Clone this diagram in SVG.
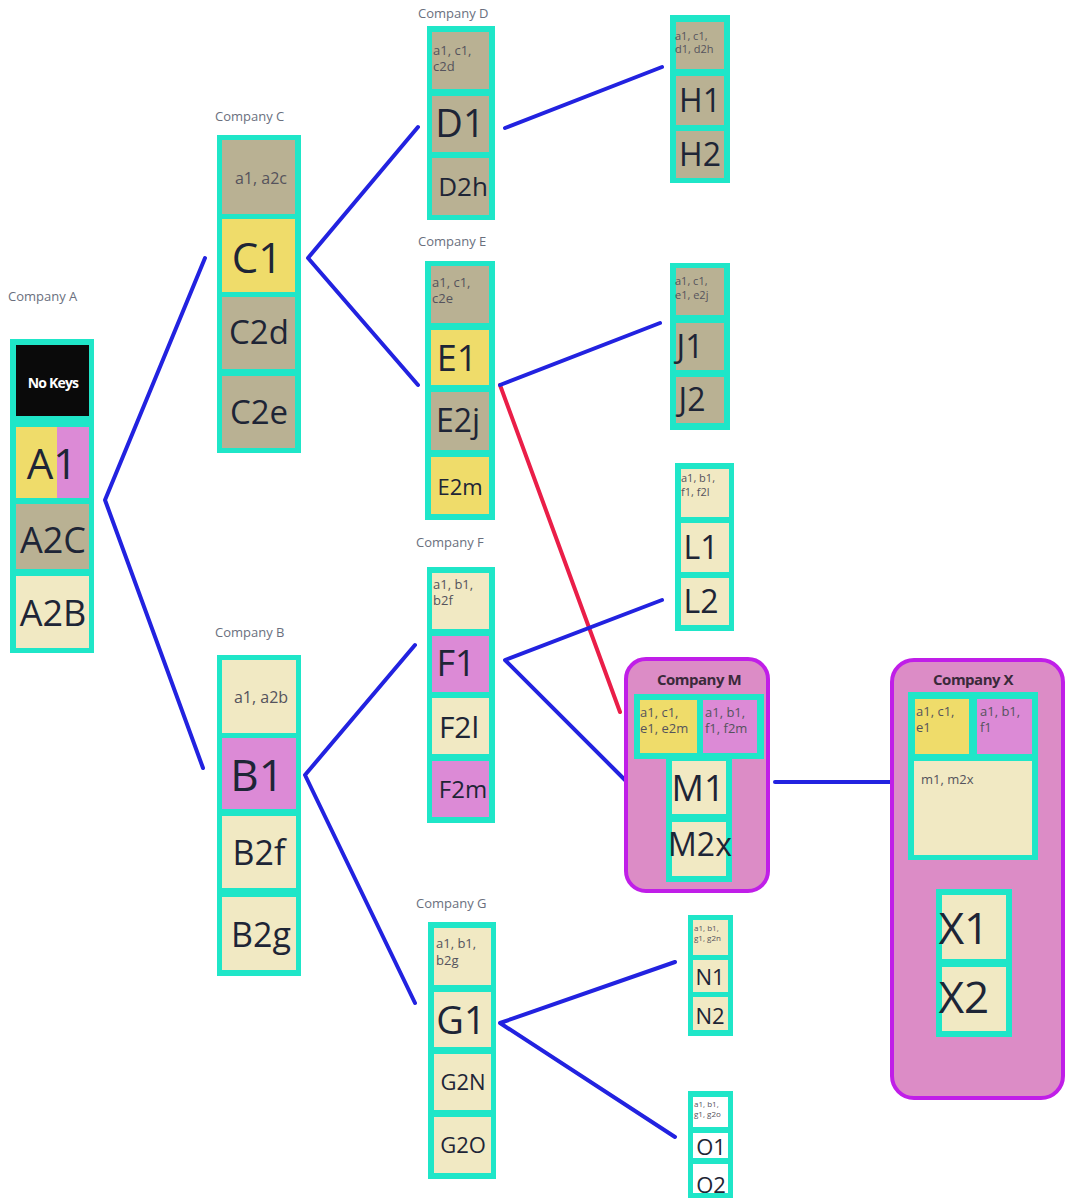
<svg xmlns="http://www.w3.org/2000/svg" width="1066" height="1202" viewBox="0 0 1066 1202">
<style>
.frame{fill:#1fe6c8}
.tan{fill:#b9b193}
.yel{fill:#efdc6a}
.pnk{fill:#dc8ad6}
.crm{fill:#f1e9c3}
.wht{fill:#ffffff}
.blk{fill:#0a0a0a}
.lbl{font-family:"Open Sans","Noto Sans",sans-serif;font-size:13px;fill:#6a6f7e}
.big{font-family:"Open Sans","Noto Sans",sans-serif;fill:#1e2536;text-anchor:middle}
.key{font-family:"Open Sans","Noto Sans",sans-serif;fill:#55535c}
.keyc{font-family:"Open Sans","Noto Sans",sans-serif;fill:#55535c;text-anchor:middle}
.grp{fill:#dc8cc6;stroke:#c01ee8;stroke-width:4}
.gt{font-family:"Open Sans","Noto Sans",sans-serif;font-size:15px;font-weight:bold;fill:#3a2a3a;text-anchor:middle;letter-spacing:-0.5px}
.blue{stroke:#2222e0;stroke-width:4;fill:none;stroke-linecap:round;stroke-linejoin:round}
.red{stroke:#ea1e48;stroke-width:4;fill:none;stroke-linecap:round}
</style>
<rect width="1066" height="1202" fill="#ffffff"/>

<g id="connectors">
<polyline class="blue" points="205,258 105,500 203,768"/>
<polyline class="blue" points="418,127 308,258 418,385"/>
<line class="blue" x1="505" y1="128" x2="662" y2="67"/>
<line class="red" x1="500" y1="385" x2="620" y2="712"/>
<line class="blue" x1="500" y1="385" x2="660" y2="323"/>
<polyline class="blue" points="415,645 305,775 415,1003"/>
<polyline class="blue" points="662,600 505,660 625,780"/>
<polyline class="blue" points="675,962 500,1023 675,1137"/>
<line class="blue" x1="775" y1="782" x2="890" y2="782"/>
</g>

<g id="companyA">
<text class="lbl" x="8" y="301">Company A</text>
<rect class="frame" x="10" y="339" width="84" height="314"/>
<rect class="blk" x="16" y="345" width="73" height="71"/>
<text x="53" y="388" font-family="Open Sans, Noto Sans, sans-serif" font-size="14" font-weight="bold" fill="#ffffff" text-anchor="middle" letter-spacing="-0.8">No Keys</text>
<rect class="yel" x="16" y="427" width="41" height="71"/>
<rect class="pnk" x="57" y="427" width="32" height="71"/>
<text class="big" x="52" y="479" font-size="42">A1</text>
<rect class="tan" x="16" y="504" width="73" height="65"/>
<text class="big" x="53" y="553" font-size="36">A2C</text>
<rect class="crm" x="16" y="576" width="73" height="72"/>
<text class="big" x="53" y="626" font-size="36">A2B</text>
</g>

<g id="companyC">
<text class="lbl" x="215" y="121">Company C</text>
<rect class="frame" x="217" y="135" width="84" height="318"/>
<rect class="tan" x="222" y="140" width="73" height="74"/>
<text class="keyc" x="261" y="184" font-size="16">a1, a2c</text>
<rect class="yel" x="222" y="219" width="73" height="73"/>
<text class="big" x="257" y="273" font-size="42">C1</text>
<rect class="tan" x="222" y="297" width="73" height="72"/>
<text class="big" x="259" y="344" font-size="33">C2d</text>
<rect class="tan" x="222" y="376" width="73" height="72"/>
<text class="big" x="259" y="424" font-size="33">C2e</text>
</g>

<g id="companyD">
<text class="lbl" x="418" y="18">Company D</text>
<rect class="frame" x="427" y="26" width="68" height="194"/>
<rect class="tan" x="432" y="32" width="57" height="57"/>
<text class="key" x="433" y="55" font-size="13">a1, c1,</text>
<text class="key" x="433" y="71" font-size="13">c2d</text>
<rect class="tan" x="432" y="96" width="57" height="56"/>
<text class="big" x="460" y="137" font-size="38">D1</text>
<rect class="tan" x="432" y="158" width="57" height="57"/>
<text class="big" x="463" y="196" font-size="26">D2h</text>
</g>

<g id="companyE">
<text class="lbl" x="418" y="246">Company E</text>
<rect class="frame" x="425" y="261" width="70" height="259"/>
<rect class="tan" x="431" y="266" width="58" height="57"/>
<text class="key" x="432" y="287" font-size="13">a1, c1,</text>
<text class="key" x="432" y="303" font-size="13">c2e</text>
<rect class="yel" x="431" y="330" width="58" height="55"/>
<text class="big" x="457" y="371" font-size="36">E1</text>
<rect class="tan" x="431" y="392" width="58" height="58"/>
<text class="big" x="458" y="432" font-size="32">E2j</text>
<rect class="yel" x="431" y="457" width="58" height="57"/>
<text class="big" x="460" y="495" font-size="22">E2m</text>
</g>

<g id="companyH">
<rect class="frame" x="670" y="15" width="60" height="168"/>
<rect class="tan" x="676" y="22" width="48" height="47"/>
<text class="key" x="675" y="40" font-size="11">a1, c1,</text>
<text class="key" x="675" y="53" font-size="11">d1, d2h</text>
<rect class="tan" x="676" y="76" width="48" height="49"/>
<text class="big" x="700" y="112" font-size="32">H1</text>
<rect class="tan" x="676" y="131" width="48" height="47"/>
<text class="big" x="700" y="166" font-size="32">H2</text>
</g>

<g id="companyJ">
<rect class="frame" x="670" y="263" width="60" height="167"/>
<rect class="tan" x="676" y="268" width="48" height="47"/>
<text class="key" x="675" y="285" font-size="11">a1, c1,</text>
<text class="key" x="675" y="299" font-size="11">e1, e2j</text>
<rect class="tan" x="676" y="323" width="48" height="47"/>
<text class="big" x="690" y="358" font-size="32">J1</text>
<rect class="tan" x="676" y="377" width="48" height="46"/>
<text class="big" x="692" y="411" font-size="32">J2</text>
</g>

<g id="companyL">
<rect class="frame" x="675" y="463" width="59" height="168"/>
<rect class="crm" x="681" y="469" width="48" height="48"/>
<text class="key" x="681" y="482" font-size="11">a1, b1,</text>
<text class="key" x="681" y="496" font-size="11">f1, f2l</text>
<rect class="crm" x="681" y="523" width="48" height="49"/>
<text class="big" x="701" y="559" font-size="32">L1</text>
<rect class="crm" x="681" y="578" width="48" height="47"/>
<text class="big" x="701" y="613" font-size="32">L2</text>
</g>

<g id="companyB">
<text class="lbl" x="215" y="637">Company B</text>
<rect class="frame" x="217" y="655" width="84" height="321"/>
<rect class="crm" x="222" y="660" width="74" height="73"/>
<text class="keyc" x="261" y="703" font-size="16">a1, a2b</text>
<rect class="pnk" x="222" y="738" width="74" height="71"/>
<text class="big" x="257" y="791" font-size="44">B1</text>
<rect class="crm" x="222" y="816" width="74" height="72"/>
<text class="big" x="259" y="865" font-size="34">B2f</text>
<rect class="crm" x="222" y="897" width="74" height="73"/>
<text class="big" x="261" y="947" font-size="34">B2g</text>
</g>

<g id="companyF">
<text class="lbl" x="416" y="547">Company F</text>
<rect class="frame" x="427" y="567" width="68" height="256"/>
<rect class="crm" x="432" y="573" width="57" height="56"/>
<text class="key" x="433" y="589" font-size="13">a1, b1,</text>
<text class="key" x="433" y="605" font-size="13">b2f</text>
<rect class="pnk" x="432" y="636" width="57" height="56"/>
<text class="big" x="456" y="676" font-size="36">F1</text>
<rect class="crm" x="432" y="698" width="57" height="56"/>
<text class="big" x="459" y="738" font-size="30">F2l</text>
<rect class="pnk" x="432" y="761" width="57" height="56"/>
<text class="big" x="463" y="798" font-size="24">F2m</text>
</g>

<g id="companyG">
<text class="lbl" x="416" y="908">Company G</text>
<rect class="frame" x="428" y="922" width="68" height="257"/>
<rect class="crm" x="434" y="928" width="57" height="57"/>
<text class="key" x="436" y="948" font-size="13">a1, b1,</text>
<text class="key" x="436" y="965" font-size="13">b2g</text>
<rect class="crm" x="434" y="992" width="57" height="55"/>
<text class="big" x="461" y="1034" font-size="38">G1</text>
<rect class="crm" x="434" y="1054" width="57" height="56"/>
<text class="big" x="463" y="1090" font-size="22">G2N</text>
<rect class="crm" x="434" y="1117" width="57" height="56"/>
<text class="big" x="463" y="1153" font-size="22">G2O</text>
</g>

<g id="companyN">
<rect class="frame" x="688" y="915" width="45" height="121"/>
<rect class="crm" x="693" y="920" width="35" height="35"/>
<text class="key" x="694" y="931" font-size="8">a1, b1,</text>
<text class="key" x="694" y="941" font-size="8">g1, g2n</text>
<rect class="crm" x="693" y="960" width="35" height="32"/>
<text class="big" x="710" y="985" font-size="22">N1</text>
<rect class="crm" x="693" y="997" width="35" height="33"/>
<text class="big" x="710" y="1024" font-size="22">N2</text>
</g>

<g id="companyO">
<rect class="frame" x="688" y="1091" width="45" height="107"/>
<rect class="wht" x="693" y="1097" width="35" height="30"/>
<text class="key" x="694" y="1107" font-size="8">a1, b1,</text>
<text class="key" x="694" y="1117" font-size="8">g1, g2o</text>
<rect class="wht" x="693" y="1133" width="35" height="25"/>
<text class="big" x="711" y="1155" font-size="22">O1</text>
<rect class="wht" x="693" y="1164" width="35" height="29"/>
<text class="big" x="711" y="1193" font-size="22">O2</text>
</g>

<g id="companyM">
<rect class="grp" x="626" y="659" width="142" height="232" rx="20"/>
<text class="gt" x="699" y="685">Company M</text>
<rect class="frame" x="634" y="694" width="130" height="65"/>
<rect class="yel" x="640" y="700" width="57" height="53"/>
<text class="key" x="640" y="717" font-size="13">a1, c1,</text>
<text class="key" x="640" y="733" font-size="13">e1, e2m</text>
<rect class="pnk" x="703" y="700" width="54" height="53"/>
<text class="key" x="705" y="717" font-size="13">a1, b1,</text>
<text class="key" x="705" y="733" font-size="13">f1, f2m</text>
<rect class="frame" x="666" y="755" width="66" height="127"/>
<rect class="crm" x="672" y="761" width="54" height="53"/>
<text class="big" x="698" y="801" font-size="36">M1</text>
<rect class="crm" x="672" y="822" width="54" height="54"/>
<text class="big" x="700" y="856" font-size="32">M2x</text>
</g>

<g id="companyX">
<rect class="grp" x="892" y="660" width="171" height="438" rx="22"/>
<text class="gt" x="973" y="685">Company X</text>
<rect class="frame" x="908" y="692" width="130" height="168"/>
<rect class="yel" x="915" y="699" width="54" height="55"/>
<text class="key" x="916" y="716" font-size="13">a1, c1,</text>
<text class="key" x="916" y="732" font-size="13">e1</text>
<rect class="pnk" x="977" y="699" width="55" height="55"/>
<text class="key" x="980" y="716" font-size="13">a1, b1,</text>
<text class="key" x="980" y="732" font-size="13">f1</text>
<rect class="crm" x="914" y="761" width="118" height="94"/>
<text class="key" x="921" y="784" font-size="13">m1, m2x</text>
<rect class="frame" x="936" y="889" width="76" height="148"/>
<rect class="crm" x="942" y="895" width="64" height="64"/>
<text class="big" x="964" y="944" font-size="44">X1</text>
<rect class="crm" x="942" y="967" width="64" height="64"/>
<text class="big" x="964" y="1013" font-size="44">X2</text>
</g>
</svg>
